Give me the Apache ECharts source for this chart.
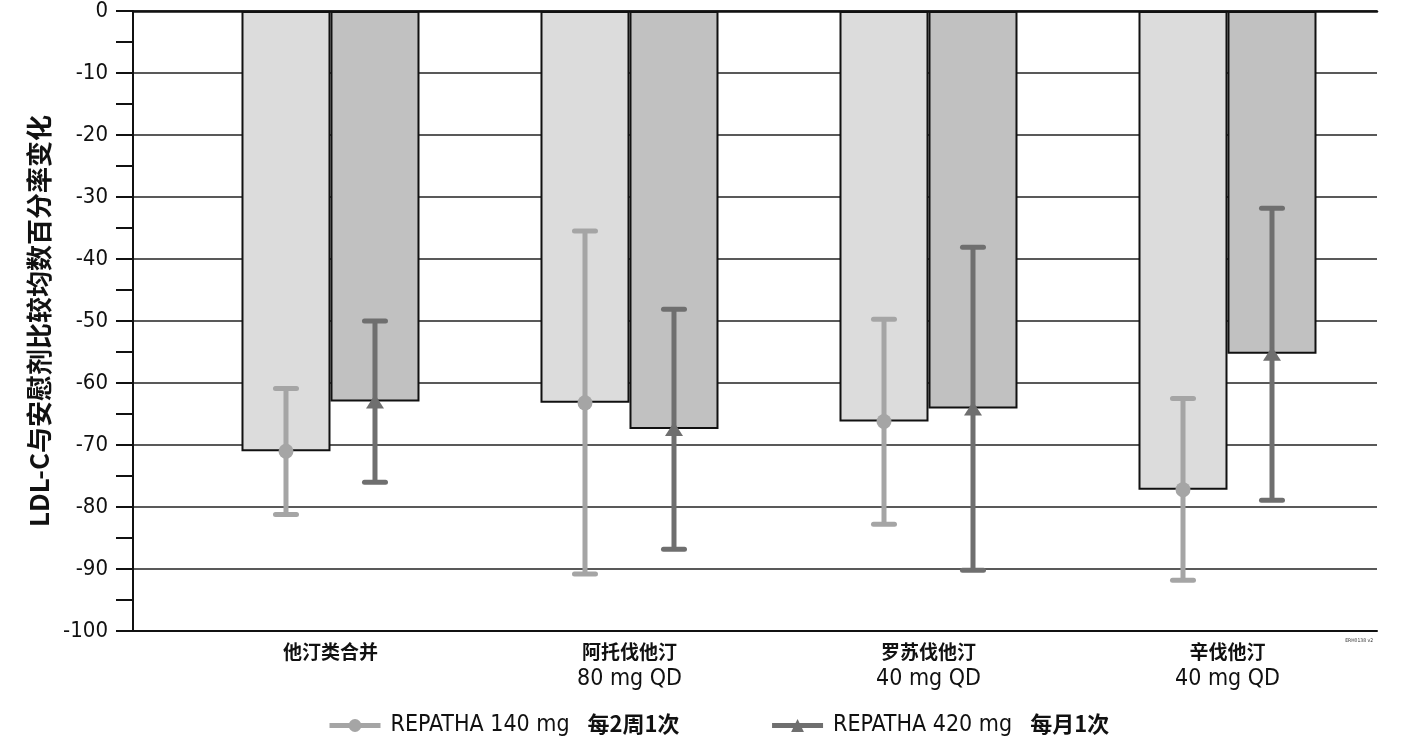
<!DOCTYPE html>
<html>
<head>
<meta charset="utf-8">
<script src="https://cdn.jsdelivr.net/npm/echarts@6/dist/echarts.min.js"></script>
<style>html,body{margin:0;padding:0;background:#fff;}#c{width:1412px;height:739px;}</style>
</head>
<body>
<div id="c"></div>
<script>
const categories = ['他汀类合并', '阿托伐他汀', '罗苏伐他汀', '辛伐他汀'];
const doses = ['', '80 mg QD', '40 mg QD', '40 mg QD'];
const seriesNames = ['REPATHA 140 mg', 'REPATHA 420 mg'];
const seriesFreq = ['每2周1次', '每月1次'];
const q2wMean = [-71.0, -63.2, -66.2, -77.2];
const q2wLow  = [-81.2, -90.8, -82.8, -91.8];
const q2wHigh = [-60.9, -35.5, -49.7, -62.5];
const qmMean  = [-63.0, -67.4, -64.1, -55.3];
const qmLow   = [-76.0, -86.8, -90.2, -78.9];
const qmHigh  = [-50.0, -48.1, -38.1, -31.8];
const yTicks = [0, -10, -20, -30, -40, -50, -60, -70, -80, -90, -100];
const footnote = 'ERH0138 v2';

const NUMFONT = '"DejaVu Sans Condensed", "Liberation Sans Narrow", "DejaVu Sans", sans-serif';
const CJK = '"Noto Sans CJK SC", sans-serif';
const BAR_W = 89;
const lightFill = '#dcdcdc', darkFill = '#c1c1c1';
const lightErr = '#a5a5a5', darkErr = '#6f6f6f';

const idx = categories.map((_, i) => i);
const pts = arr => arr.map((v, i) => [i, v]);
const errData = (lo, hi) => lo.map((v, i) => [i, v, hi[i]]);

function errRender(side, color) {
  return function (params, api) {
    const x = api.value(0);
    const pLo = api.coord([x, api.value(1)]);
    const pHi = api.coord([x, api.value(2)]);
    const cx = pLo[0] + side * BAR_W / 2;
    const cap = 10.5;
    const st = { stroke: color, lineWidth: 5 };
    return {
      type: 'group',
      children: [
        { type: 'line', shape: { x1: cx, y1: pHi[1], x2: cx, y2: pLo[1] }, style: st },
        { type: 'line', shape: { x1: cx - cap, y1: pHi[1], x2: cx + cap, y2: pHi[1] }, style: Object.assign({ lineCap: 'round' }, st) },
        { type: 'line', shape: { x1: cx - cap, y1: pLo[1], x2: cx + cap, y2: pLo[1] }, style: Object.assign({ lineCap: 'round' }, st) }
      ]
    };
  };
}

const chart = echarts.init(document.getElementById('c'), null, { renderer: 'canvas' });
const xMin = -0.6605, xMax = 3.5;
chart.setOption({
  animation: false,
  backgroundColor: '#fff',
  title: {
    text: footnote, right: 34, top: 633,
    textStyle: { fontSize: 5, fontWeight: 'normal', color: '#333', fontFamily: NUMFONT }
  },
  grid: { left: 133, right: 35, top: 9, bottom: 108, containLabel: false },
  xAxis: [{
    type: 'value', min: xMin, max: xMax,
    axisLine: { show: true, onZero: false, lineStyle: { color: '#111', width: 2 } },
    axisTick: { show: false },
    splitLine: { show: false },
    axisLabel: {
      show: true, customValues: idx, margin: 8,
      formatter: v => {
        const i = Math.round(v);
        return doses[i] ? `{a|${categories[i]}}\n{b|${doses[i]}}` : `{a|${categories[i]}}`;
      },
      rich: {
        a: { fontFamily: CJK, fontWeight: 'bold', fontSize: 19, color: '#111', lineHeight: 25 },
        b: { fontFamily: NUMFONT, fontSize: 23, color: '#111', lineHeight: 31 }
      }
    }
  }, {
    type: 'value', min: xMin, max: xMax, position: 'top',
    axisLine: { show: true, onZero: false, lineStyle: { color: '#111', width: 2.5 } },
    axisTick: { show: false }, axisLabel: { show: false }, splitLine: { show: false }
  }],
  yAxis: {
    type: 'value', min: -100, max: 0, interval: 10,
    name: 'LDL-C与安慰剂比较均数百分率变化',
    nameLocation: 'middle', nameGap: 80, nameRotate: 90,
    nameTextStyle: { fontFamily: CJK, fontWeight: 'bold', fontSize: 26, color: '#111' },
    axisLine: { show: true, onZero: false, lineStyle: { color: '#111', width: 2 } },
    axisTick: { show: true, length: 17, lineStyle: { color: '#111', width: 2 } },
    minorTick: { show: true, splitNumber: 2, length: 17, lineStyle: { color: '#111', width: 2 } },
    axisLabel: {
      margin: 25, fontFamily: NUMFONT, fontSize: 22, color: '#111',
      customValues: yTicks
    },
    splitLine: { show: true, lineStyle: { color: '#222', width: 1.5 } }
  },
  legend: {
    left: 322, top: 708, itemWidth: 51, itemHeight: 16, itemGap: 90,
    data: seriesNames.map((n, i) => ({
      name: n,
      lineStyle: { opacity: 1, width: 5, color: i === 0 ? lightErr : darkErr }
    })),
    formatter: name => `{a|${name}}{b|${seriesFreq[seriesNames.indexOf(name)]}}`,
    textStyle: {
      rich: {
        a: { fontFamily: NUMFONT, fontSize: 23, color: '#111', padding: [0, 0, 0, 5], verticalAlign: 'middle' },
        b: { fontFamily: CJK, fontWeight: 'bold', fontSize: 22, color: '#111', padding: [0, 0, 3, 18], verticalAlign: 'middle' }
      }
    }
  },
  series: [
    {
      name: 'bar140', type: 'bar', data: pts(q2wMean), barWidth: BAR_W, barGap: '0%',
      itemStyle: { color: lightFill, borderColor: '#111', borderWidth: 2 }, z: 2
    },
    {
      name: 'bar420', type: 'bar', data: pts(qmMean), barWidth: BAR_W, barGap: '0%',
      itemStyle: { color: darkFill, borderColor: '#111', borderWidth: 2 }, z: 2
    },
    {
      name: 'err140', type: 'custom', data: errData(q2wLow, q2wHigh),
      renderItem: errRender(-1, lightErr), z: 3, clip: false
    },
    {
      name: 'err420', type: 'custom', data: errData(qmLow, qmHigh),
      renderItem: errRender(1, darkErr), z: 3, clip: false
    },
    {
      name: seriesNames[0], type: 'line', data: pts(q2wMean).map(p => [p[0] - BAR_W / 2 / 299, p[1]]),
      symbol: 'circle', symbolSize: 15,
      itemStyle: { color: lightErr }, lineStyle: { opacity: 0, color: lightErr, width: 5 }, z: 4
    },
    {
      name: seriesNames[1], type: 'line', data: pts(qmMean).map(p => [p[0] + BAR_W / 2 / 299, p[1]]),
      symbol: 'triangle', symbolSize: [18, 14],
      itemStyle: { color: darkErr }, lineStyle: { opacity: 0, color: darkErr, width: 5 }, z: 4
    }
  ]
});
</script>
</body>
</html>
